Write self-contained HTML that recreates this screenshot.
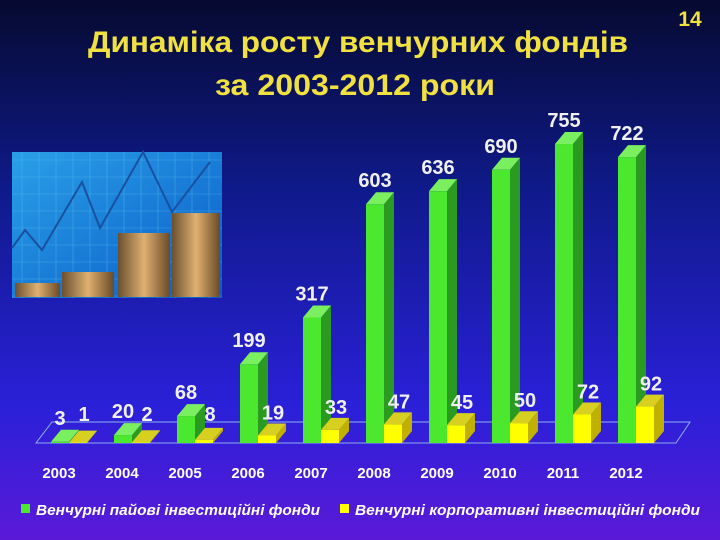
<!DOCTYPE html>
<html><head><meta charset="utf-8"><style>
body{margin:0;width:720px;height:540px;overflow:hidden;font-family:"Liberation Sans","DejaVu Sans",sans-serif}
svg{display:block}
</style></head><body>
<svg id="c" width="720" height="540">
<defs>
<linearGradient id="bg" x1="0" y1="0" x2="0" y2="1">
<stop offset="0" stop-color="#060a30"/><stop offset="0.35" stop-color="#0f1a8a"/><stop offset="0.75" stop-color="#2a20d8"/><stop offset="1" stop-color="#5a1ad8"/></linearGradient>
<linearGradient id="pic" x1="0" y1="0" x2="1" y2="1"><stop offset="0" stop-color="#2aa0e8"/><stop offset="1" stop-color="#0a5cc8"/></linearGradient>
<linearGradient id="coin" x1="0" y1="0" x2="1" y2="0"><stop offset="0" stop-color="#6a5030"/><stop offset="0.5" stop-color="#e0b070"/><stop offset="1" stop-color="#6a4a28"/></linearGradient>
</defs>
<rect width="720" height="540" fill="url(#bg)"/>
<text x="88" y="52" textLength="540" lengthAdjust="spacingAndGlyphs" font-size="30" font-weight="bold" fill="#f0e040">Динаміка росту венчурних фондів</text>
<text x="215" y="95" textLength="280" lengthAdjust="spacingAndGlyphs" font-size="30" font-weight="bold" fill="#f0e040">за 2003-2012 роки</text>
<text x="690" y="26" text-anchor="middle" font-size="21" font-weight="bold" fill="#f0e040">14</text>
<g>
<rect x="12" y="152" width="210" height="146" fill="url(#pic)"/>
<g stroke="#5cc0f0" stroke-width="0.6" opacity="0.6" id="grid"></g>
<polyline points="12,248 25,230 42,250 82,182 100,228 143,152 172,212 210,162" fill="none" stroke="#1a50a0" stroke-width="2"/>
<rect x="15" y="283" width="45" height="14" fill="url(#coin)"/>
<rect x="62" y="272" width="52" height="25" fill="url(#coin)"/>
<rect x="118" y="233" width="52" height="64" fill="url(#coin)"/>
<rect x="172" y="213" width="48" height="84" fill="url(#coin)"/>
</g>
<polygon points="52,422 690,422 676,443 36,443" fill="none" stroke="#8ab0f0" stroke-width="1"/>
<g id="bars"></g>
<g>
<rect x="21" y="504" width="9" height="9" fill="#4ce830"/>
<text x="36" y="515" textLength="284" lengthAdjust="spacingAndGlyphs" font-size="15" font-weight="bold" font-style="italic" fill="#fff">Венчурні пайові інвестиційні фонди</text>
<rect x="340" y="504" width="9" height="9" fill="#ffff00"/>
<text x="355" y="515" textLength="345" lengthAdjust="spacingAndGlyphs" font-size="15" font-weight="bold" font-style="italic" fill="#fff">Венчурні корпоративні інвестиційні фонди</text>
</g>
</svg>
<script>
const years=["2003","2004","2005","2006","2007","2008","2009","2010","2011","2012"];
const paiValues=[3,20,68,199,317,603,636,690,755,722];
const corpValues=[1,2,8,19,33,47,45,50,72,92];
const NS="http://www.w3.org/2000/svg";
const base=443, scale=0.396, x0=51, step=63, bw=18, dx=10, dy=12;
const xS=i=>x0+i*step, yS=v=>base-v*scale;
const g=document.getElementById('bars');
function mk(t,a){const e=document.createElementNS(NS,t);for(const k in a)e.setAttribute(k,a[k]);return e;}
const grid=document.getElementById('grid');
for(let x=22;x<222;x+=17)grid.appendChild(mk('line',{x1:x,y1:152,x2:x,y2:298}));
for(let y=160;y<298;y+=17)grid.appendChild(mk('line',{x1:12,y1:y,x2:222,y2:y}));
function bar(x,v,front,side,top,name){
  const y=yS(v);
  const s=mk('g',{});
  
  
  s.appendChild(mk('polygon',{points:`${x+bw},${y} ${x+bw+dx},${y-dy} ${x+bw+dx},${base-dy} ${x+bw},${base}`,fill:side}));
  s.appendChild(mk('polygon',{points:`${x},${y} ${x+dx},${y-dy} ${x+bw+dx},${y-dy} ${x+bw},${y}`,fill:top}));
  s.appendChild(mk('rect',{x:x,y:y,width:bw,height:base-y,fill:front}));
  g.appendChild(s);
}
function label(x,y,t,name){
  const e=mk('text',{x:x,y:y,'text-anchor':'middle','font-size':20,'font-weight':'bold',fill:'#f0f0f0'});
  e.textContent=t;
  
  
  g.appendChild(e);
}
years.forEach((yr,i)=>{
  const x=xS(i);
  bar(x,paiValues[i],'#4ce830','#2a9a20','#7af060','bar-pai-'+yr);
  bar(x+bw,corpValues[i],'#ffff00','#c0b000','#d8d020','bar-corp-'+yr);
  label(x+bw/2,yS(paiValues[i])-dy-5,String(paiValues[i]),'value-pai-'+yr);
  label(x+bw*1.5+6,Math.min(yS(corpValues[i])-dy-4,base-22),String(corpValues[i]),'value-corp-'+yr);
  const t=mk('text',{x:x+8,y:478,'text-anchor':'middle','font-size':15,'font-weight':'bold',fill:'#fff'});
  t.textContent=yr;
  
  
  g.appendChild(t);
});
</script>
</body></html>
